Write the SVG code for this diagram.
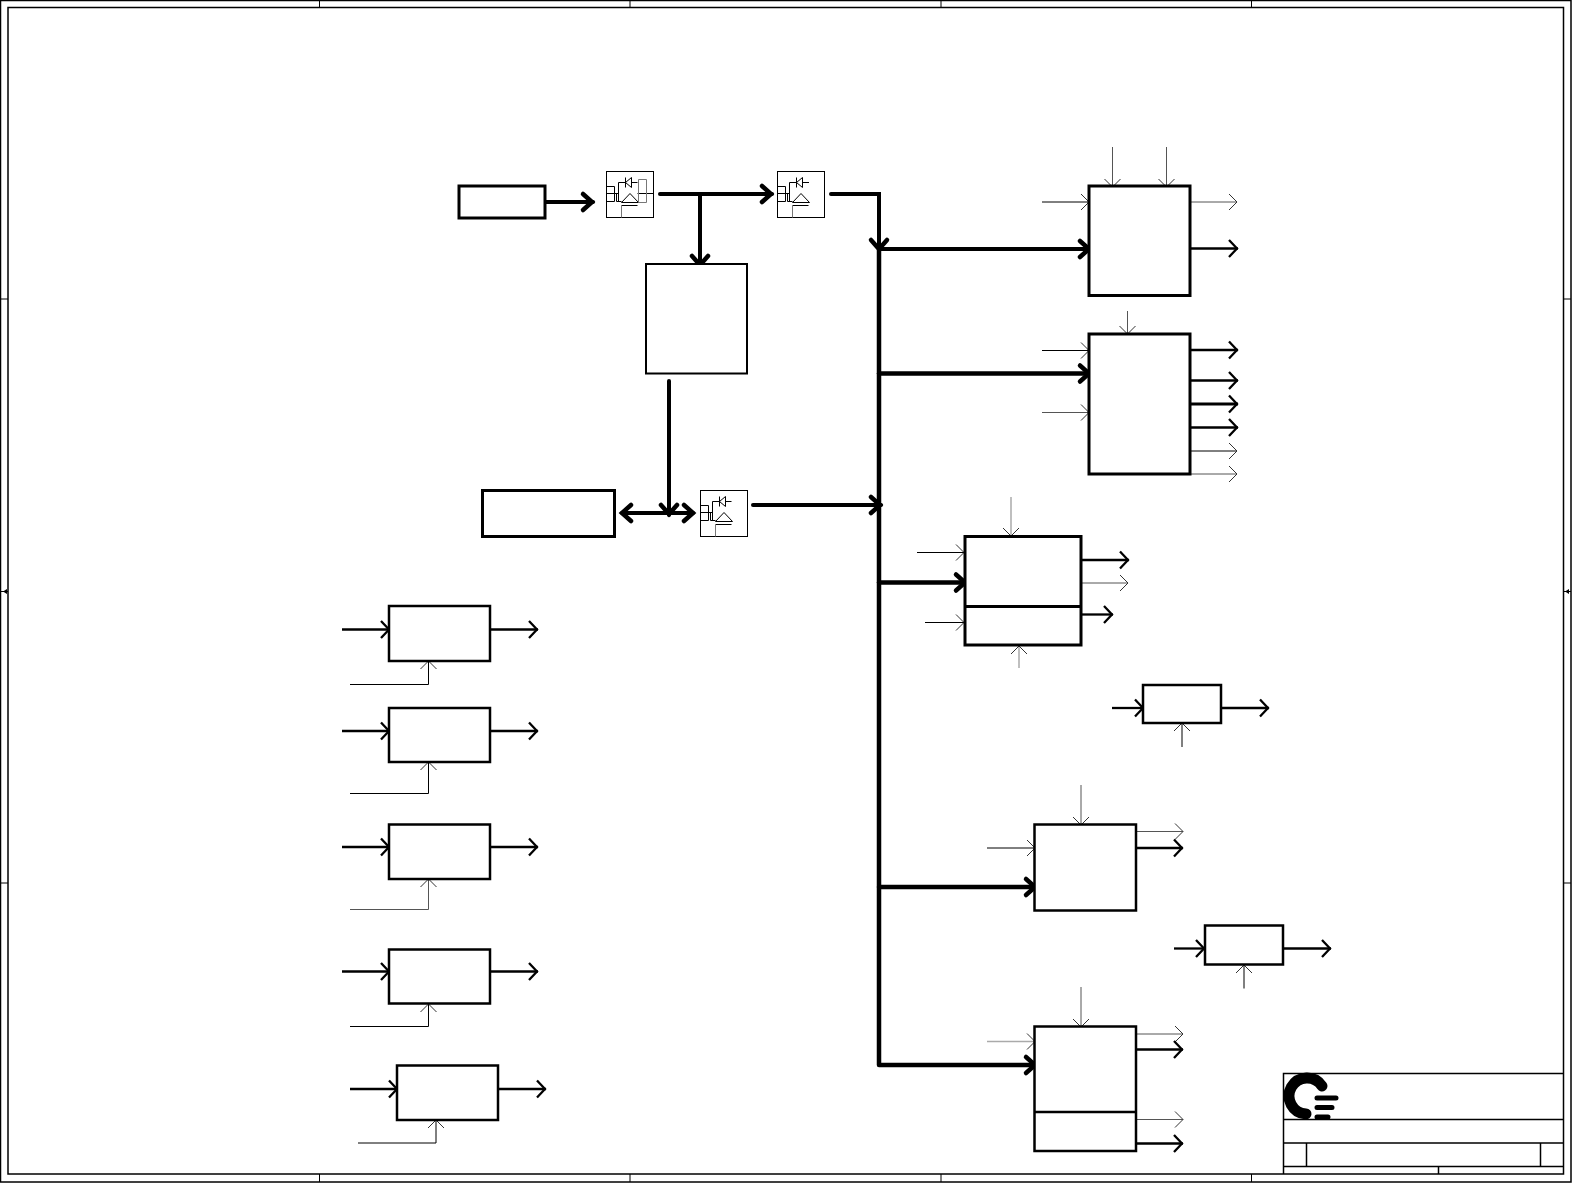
<svg xmlns="http://www.w3.org/2000/svg" width="1572" height="1183" viewBox="0 0 1572 1183">
<style>
.bg{fill:#fff}
.box{fill:#fff;stroke:#000;stroke-width:3}
.box2{fill:#fff;stroke:#000;stroke-width:2.500}
.box3{fill:#fff;stroke:#000;stroke-width:2}
.f{fill:none;stroke:#000;stroke-width:1.500}
.l1{fill:none;stroke:#000;stroke-width:1;marker-end:url(#a1)}
.g1{fill:none;stroke:#555;stroke-width:1;marker-end:url(#a1)}
.g2{fill:none;stroke:#aaa;stroke-width:1.500;marker-end:url(#a1)}
.l2{fill:none;stroke:#000;stroke-width:2.300;marker-end:url(#a2)}
.l3{fill:none;stroke:#000;stroke-width:3;marker-end:url(#a2)}
.l4{fill:none;stroke:#000;stroke-width:4;stroke-linecap:round;marker-end:url(#a3)}
.l5{fill:none;stroke:#000;stroke-width:4.500;stroke-linecap:round;stroke-linejoin:round;marker-end:url(#a3)}
.m{fill:#fff;stroke:#000;stroke-width:1}
.s{fill:none;stroke:#000;stroke-width:1}
.sg{fill:none;stroke:#777;stroke-width:1}
</style>
<defs>
<marker id="a1" markerUnits="userSpaceOnUse" markerWidth="20" markerHeight="20" viewBox="-10 -10 20 20" refX="0" refY="0" orient="auto"><path d="M-8,-8L0,0L-8,8" fill="none" stroke="#333" stroke-width="1"/></marker>
<marker id="a2" markerUnits="userSpaceOnUse" markerWidth="24" markerHeight="24" viewBox="-12 -12 24 24" refX="1" refY="0" orient="auto"><path d="M-8,-8.500L0,0L-8,8.500" fill="none" stroke="#000" stroke-width="2.300"/></marker>
<marker id="a3" markerUnits="userSpaceOnUse" markerWidth="28" markerHeight="28" viewBox="-14 -14 28 28" refX="1" refY="0" orient="auto"><path d="M-9,-8L0,0L-9,8" fill="none" stroke="#000" stroke-width="4.500" stroke-linecap="round"/></marker>
<marker id="a3s" markerUnits="userSpaceOnUse" markerWidth="28" markerHeight="28" viewBox="-14 -14 28 28" refX="0" refY="0" orient="auto-start-reverse"><path d="M-9,-8L0,0L-9,8" fill="none" stroke="#000" stroke-width="4.500" stroke-linecap="round"/></marker>
<g id="mos">
<rect class="m" x="0.500" y="0.500" width="47" height="46"/>
<path class="s" d="M19.500,6.500V16.500M19.500,11.500L25.500,6.500V16.500ZM12.500,11.500H19.500M12.500,11.500V30.500M25.500,11.500H31.500"/>
<path class="s" d="M0.500,15.500H8.500V30.500H0.500M0.500,22.500H12.500M10.500,22.500V30.500H15.500"/>
<path class="s" d="M24,22.500L32.500,31.500H15.500Z"/>
<path class="s" d="M31.500,34.500H15.500"/><path class="sg" d="M15.500,34.500V46.500"/>
</g>
</defs>
<rect class="bg" width="1572" height="1183"/>
<g id="frame">
<rect class="f" x="0.500" y="0.500" width="1570.500" height="1181.500"/>
<rect class="f" x="8" y="7.500" width="1555.500" height="1166.500"/>
<path class="s" d="M319.500,1V7M630,1V7M941,1V7M1251.500,1V7M319.500,1174V1182M630,1174V1182M941,1174V1182M1251.500,1174V1182M1,299H8M1,883H8M1564,299H1571M1564,883H1571M1,591.500H8M1564,591.500H1571"/>
<path d="M3,591.500L7,589V594Z M1565,591.500L1569,589V594Z"/>
</g>
<g id="title-block">
<path class="f" d="M1283.500,1174V1073.500H1563.500M1283.500,1119.500H1563.500M1283.500,1143H1563.500M1283.500,1166.500H1563.500M1306.500,1143V1166.500M1540.500,1143V1166.500M1438.500,1166.500V1174"/>
<g id="logo" fill="none" stroke="#000" stroke-linecap="round">
<path d="M1322,1086A18,18 0 1 0 1306,1114" stroke-width="11"/>
<path d="M1317,1098H1336M1317,1107.500H1332M1317,1117H1328" stroke-width="5"/>
</g>
</g>
<g id="connectors">
<path class="l4" d="M545,202H593"/>
<path class="l4" d="M660,194H772"/>
<path class="l4" d="M700,194V266"/>
<path class="l4" d="M831,194H879V250"/>
<path class="l5" d="M879,250V1065H1036"/>
<path class="l4" d="M879,249H1090"/>
<path class="l5" d="M879,373.500H1090"/>
<path class="l4" d="M753,505H881"/>
<path class="l5" d="M879,582.500H966"/>
<path class="l5" d="M879,887H1036"/>
<path class="l4" d="M669,381V515"/>
<path d="M622,513H693" fill="none" stroke="#000" stroke-width="4" stroke-linecap="round" marker-start="url(#a3s)" marker-end="url(#a3s)"/>
<path class="l1" d="M1042,202H1089"/>
<path class="g1" d="M1112.500,147V187"/>
<path class="g1" d="M1166.500,147V187"/>
<path class="g1" d="M1190,202H1237"/>
<path class="l2" d="M1190,248.500H1238"/>
<path class="g1" d="M1127.500,311V334"/>
<path class="l1" d="M1042,350.500H1089"/>
<path class="g1" d="M1042,412.500H1089"/>
<path class="l2" d="M1190,350H1238"/>
<path class="l2" d="M1190,380.500H1238"/>
<path class="l3" d="M1190,404H1238"/>
<path class="l2" d="M1190,427.500H1238"/>
<path class="l1" d="M1190,451H1237"/>
<path class="g1" d="M1190,474H1237"/>
<path class="g2" d="M1011,497V536"/>
<path class="l1" d="M917,552.500H964"/>
<path class="l1" d="M925,622.500H964"/>
<path class="g2" d="M1019,668V646"/>
<path class="l2" d="M1081,560H1129"/>
<path class="g1" d="M1081,583H1128"/>
<path class="l2" d="M1081,614.500H1113"/>
<path class="l2" d="M1112,708H1144"/>
<path class="l2" d="M1221,708H1269"/>
<path class="l1" d="M1182,747V723"/>
<path class="g1" d="M1081,785V825"/>
<path class="l1" d="M987,848H1035"/>
<path class="g1" d="M1136,831.500H1183"/>
<path class="l2" d="M1136,848H1183"/>
<path class="l2" d="M1174,948.500H1205"/>
<path class="l2" d="M1283,948.500H1331"/>
<path class="l1" d="M1244,988.500V965"/>
<path class="g1" d="M1081,987V1027"/>
<path class="g2" d="M987,1041.500H1035"/>
<path class="g1" d="M1136,1034H1183"/>
<path class="l2" d="M1136,1049.500H1183"/>
<path class="g1" d="M1136,1119.500H1183"/>
<path class="l2" d="M1136,1143.500H1183"/>
<path class="l2" d="M342,629.500H390"/><path class="l2" d="M490,629.500H538"/><path class="l1" d="M350,684.500H428.500V661"/>
<path class="l2" d="M342,731H390"/><path class="l2" d="M490,731H538"/><path class="l1" d="M350,793.500H428.500V762"/>
<path class="l2" d="M342,847H390"/><path class="l2" d="M490,847H538"/><path class="g1" d="M350,909.500H428.500V879"/>
<path class="l2" d="M342,971.500H390"/><path class="l2" d="M490,971.500H538"/><path class="l1" d="M350,1026.500H428.500V1004"/>
<path class="l2" d="M350,1089H398"/><path class="l2" d="M498,1089H546"/><path class="l1" d="M358,1143H436V1120"/>
</g>
<g id="n1"><rect class="box" x="459" y="186" width="86" height="32"/></g>
<g id="q1"><use href="#mos" x="606" y="171"/><path class="s" d="M637.500,193.500H653.500"/><path class="sg" d="M646.500,179.500H638.500V202.500H646.500M646.500,179.500V202.500"/></g>
<g id="q2"><use href="#mos" x="777" y="171"/><path class="s" d="M802.500,182.500H809"/></g>
<g id="n2"><rect class="box3" x="646" y="264" width="101" height="109.500"/></g>
<g id="n3"><rect class="box" x="482.500" y="490.500" width="132" height="46"/></g>
<g id="q3"><use href="#mos" x="700" y="490"/><path class="s" d="M725.500,501.500H731"/></g>
<g id="n4"><rect class="box" x="1089" y="186" width="101" height="109.500"/></g>
<g id="n5"><rect class="box" x="1089" y="334" width="101" height="140"/></g>
<g id="n6"><rect class="box" x="965" y="536.500" width="116" height="108.500"/><path class="box" d="M965,606.500H1081"/></g>
<g id="n7"><rect class="box2" x="1143" y="685" width="78" height="38"/></g>
<g id="n8"><rect class="box2" x="1034.500" y="824.500" width="101.500" height="86"/></g>
<g id="n9"><rect class="box2" x="1205" y="925.500" width="78" height="39"/></g>
<g id="n10"><rect class="box2" x="1034.500" y="1026.500" width="101.500" height="124.500"/><path class="box2" d="M1034.500,1112H1136"/></g>
<g id="n11"><rect class="box2" x="389" y="606" width="101" height="55"/></g>
<g id="n12"><rect class="box2" x="389" y="708" width="101" height="54"/></g>
<g id="n13"><rect class="box2" x="389" y="824.500" width="101" height="54.500"/></g>
<g id="n14"><rect class="box2" x="389" y="949.500" width="101" height="54"/></g>
<g id="n15"><rect class="box2" x="397" y="1065.500" width="101" height="54.500"/></g>
</svg>
